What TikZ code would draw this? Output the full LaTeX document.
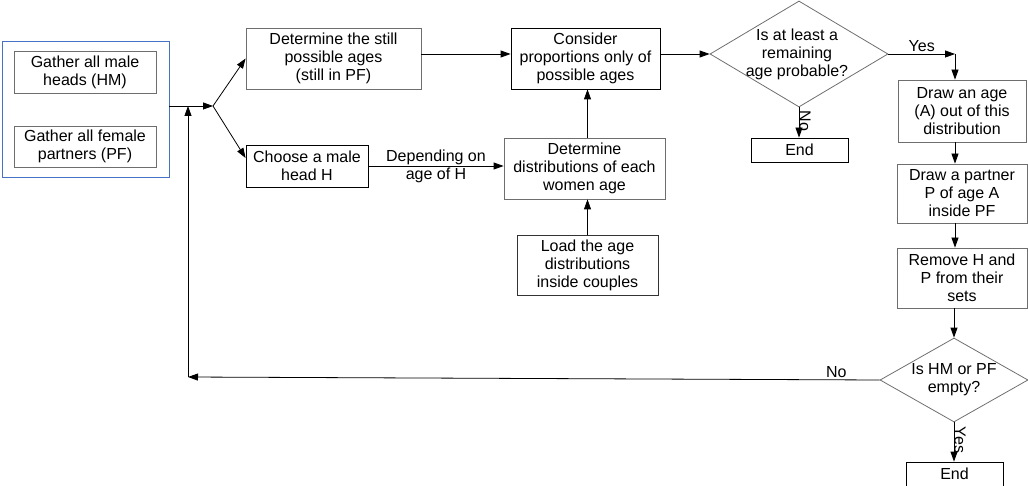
\documentclass[tikz,border=0pt]{standalone}
\usepackage{fontspec}
\setmainfont{Liberation Sans}
\usetikzlibrary{arrows.meta,shapes.geometric,calc}
\definecolor{grpblue}{RGB}{69,114,196}
\definecolor{edgegray}{RGB}{110,110,110}
\tikzset{
  txt/.style={font=\fontsize{16}{18}\selectfont, align=center, inner sep=0pt},
  box/.style={txt, draw=#1, line width=0.8pt, minimum width=\bw, minimum height=\bh},
  box/.default=black,
  dia/.style={shape=diamond, draw=edgegray, line width=0.8pt, inner sep=0pt},
  arr/.style={line width=0.8pt, -{Triangle[length=10pt,width=7pt]}},
  ln/.style={line width=0.8pt},
  lbl/.style={font=\fontsize{16}{18}\selectfont, inner sep=0pt},
}
\newcommand{\bw}{10pt}
\newcommand{\bh}{10pt}
\newcommand{\bx}[6]{% name, x, y, w, h, color, text
  \renewcommand{\bw}{#4pt}\renewcommand{\bh}{#5pt}%
  \node[box=#6] (#1) at (#2,#3)}
\begin{document}
\begin{tikzpicture}[x=1pt,y=-1pt]
\useasboundingbox (0,0) rectangle (1028,486);
% group box
\bx{grp}{85.5}{109}{167}{136}{grpblue} {};
\bx{hm}{85}{72}{142}{42}{edgegray} {Gather all male\\heads (HM)};
\bx{pf}{85}{146.5}{142}{41}{edgegray} {Gather all female\\partners (PF)};
% middle
\bx{still}{333.5}{58.5}{175}{61}{edgegray} {Determine the still\\possible ages\\(still in PF)};
\bx{cons}{585.5}{58.5}{149}{61}{black} {Consider\\proportions only of\\possible ages};
\bx{choose}{307}{166}{122}{42}{black} {Choose a male\\head H};
\bx{dist}{584.5}{168.5}{161}{61}{edgegray} {Determine\\distributions of each\\women age};
\bx{load}{587.5}{265}{141}{60}{black!80} {Load the age\\distributions\\inside couples};
% decision 1
\node[dia, minimum width=178pt, minimum height=106pt] (d1) at (799,54) {};
\node[txt] (d1t) at (797,54) {Is at least a\\remaining\\age probable?};
\bx{end1}{799.5}{150}{97}{24}{black} {End};
% right column
\bx{drawage}{962}{111}{128}{62}{edgegray} {Draw an age\\(A) out of this\\distribution};
\bx{partner}{962}{193.5}{130}{59}{edgegray} {Draw a partner\\P of age A\\inside PF};
\bx{remove}{962}{278}{130}{60}{edgegray} {Remove H and\\P from their\\sets};
\node[dia, minimum width=148pt, minimum height=84pt] (d2) at (954,380) {};
\node[txt] (d2t) at (954,380) {Is HM or PF\\empty?};
\bx{end2}{954.5}{474}{97}{24}{black} {End};
% coordinates
\coordinate (fork) at (213,106);
\coordinate (yc) at (955,54);
\coordinate (back) at (188,377);
\coordinate (up) at (188,106);
% connectors
\draw[arr] (fork -| grp.east) -- (fork);
\draw[arr] (fork) -- (still.west);
\draw[arr] (fork) -- (choose.west |- {(0,158)});
\draw[arr] (still.east |- {(0,54)}) -- (cons.west |- {(0,54)});
\draw[arr] (cons.east |- d1.west) -- (d1.west);
\draw[arr] (choose.east) -- (dist.west |- choose.east)
  node[lbl, midway, align=center] (dep) {Depending on\\age of H};
\draw[arr] (load.north) -- (load.north |- dist.south);
\draw[arr] (dist.north -| load.north) -- (load.north |- cons.south);
\draw[arr] (d1.east) -- (yc) node[lbl, pos=0.5, above=2pt] (yes1) {Yes};
\draw[arr] (yc) -- (yc |- drawage.north);
\draw[arr] (d1.south) -- (d1.south |- end1.north)
  node[lbl, pos=0.45, rotate=-90, anchor=south, xshift=0pt] (no1) {No};
\draw[arr] (drawage.south -| yc) -- (partner.north -| yc);
\draw[arr] (partner.south -| yc) -- (remove.north -| yc);
\draw[arr] (remove.south -| d2.north) -- (d2.north);
\draw[arr] (d2.south) -- (d2.south |- end2.north)
  node[lbl, pos=0.45, rotate=-90, anchor=south] (yes2) {Yes};
\draw[arr] (d2.west) -- (back) node[lbl, pos=0.0625, above=2pt] (no2) {No};
\draw[arr] (back) -- (up);
\end{tikzpicture}
\end{document}
